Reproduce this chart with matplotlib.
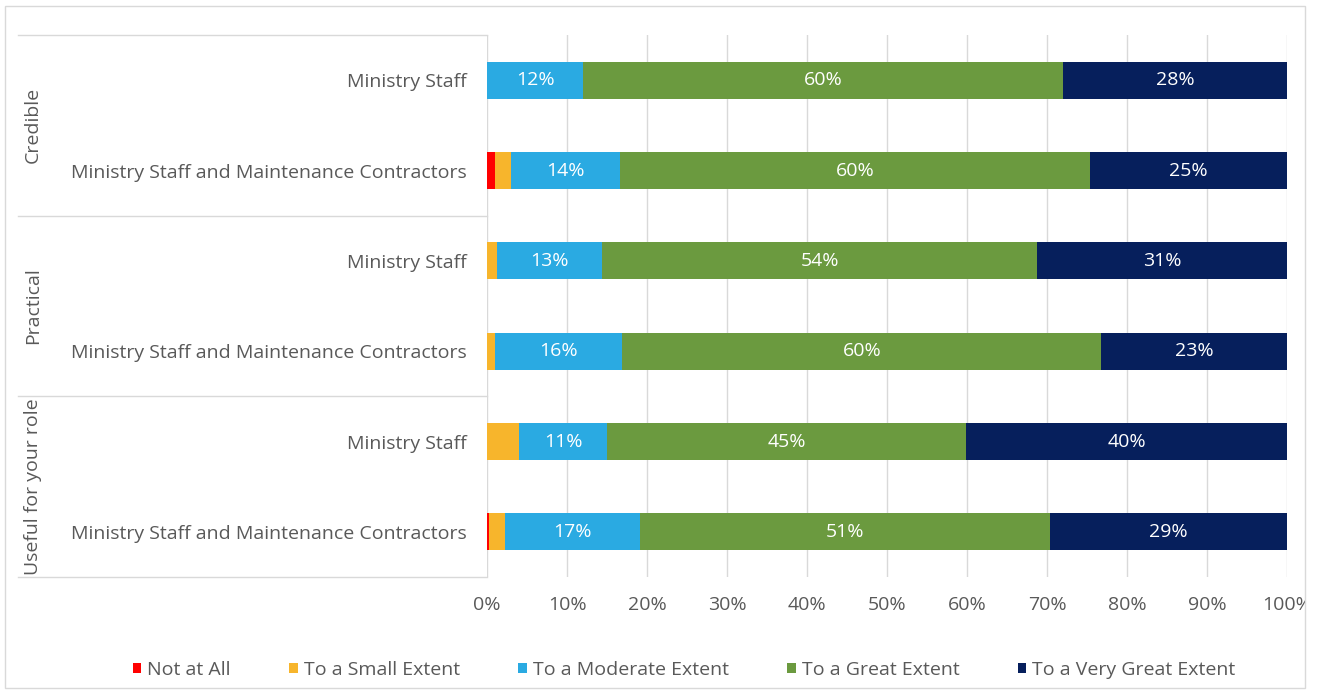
import matplotlib
matplotlib.use("Agg")
import matplotlib.pyplot as plt
from matplotlib.patches import Rectangle
import numpy as np

plt.rcParams['font.family'] = ['Open Sans', 'DejaVu Sans']

groups = ["Credible", "Practical", "Useful for your role"]
categories = ["Ministry Staff", "Ministry Staff and Maintenance Contractors"] * 3
series = ["Not at All", "To a Small Extent", "To a Moderate Extent",
          "To a Great Extent", "To a Very Great Extent"]
colors = ["#FF0000", "#F7B52C", "#2AAAE2", "#6B9A3F", "#061F5C"]

not_at_all = [0.0, 1.0, 0.0, 0.0, 0.0, 0.3]
small = [0.0, 2.0, 1.2, 1.0, 4.0, 1.9]
moderate = [12.0, 13.6, 13.2, 15.9, 11.0, 16.9]
great = [60.0, 58.8, 54.4, 59.9, 44.9, 51.3]
very_great = [28.0, 24.6, 31.2, 23.2, 40.1, 29.6]
labels_moderate = ["12%", "14%", "13%", "16%", "11%", "17%"]
labels_great = ["60%", "60%", "54%", "60%", "45%", "51%"]
labels_very_great = ["28%", "25%", "31%", "23%", "40%", "29%"]
xticks = [0, 10, 20, 30, 40, 50, 60, 70, 80, 90, 100]

W, H = 1322, 692
fig = plt.figure(figsize=(W / 100, H / 100), dpi=100)
ax = fig.add_axes([487 / W, 115 / H, 800 / W, 542 / H])

values = [not_at_all, small, moderate, great, very_great]
label_sets = [None, None, labels_moderate, labels_great, labels_very_great]
y = np.arange(len(categories))
left = np.zeros(len(categories))
text_color = "#595959"
fs = 14
for vals, col, name, labs in zip(values, colors, series, label_sets):
    vals = np.array(vals)
    ax.barh(y, vals, left=left, height=0.41, color=col, label=name, zorder=3)
    if labs is not None:
        for yi, (l, v, t) in enumerate(zip(left, vals, labs)):
            ax.text(l + v / 2, yi, t, ha="center", va="center", color="white",
                    fontsize=fs, zorder=4)
    left = left + vals

ax.set_xlim(0, 100)
ax.set_ylim(len(categories) - 0.5, -0.5)
ax.set_xticks(xticks)
ax.set_xticklabels([f"{t}%" for t in xticks], color=text_color, fontsize=fs)
ax.set_yticks(y)
ax.set_yticklabels(categories, color=text_color, fontsize=fs)
ax.tick_params(axis="both", length=0)
ax.tick_params(axis="y", pad=14.4)
ax.tick_params(axis="x", pad=13.5)
ax.grid(axis="x", color="#D9D9D9", linewidth=1, zorder=0)
for s in ax.spines.values():
    s.set_visible(False)

# group separators and labels
tr = ax.get_yaxis_transform()
x0 = (18 - 487) / 800
for yy in [-0.5, 1.5, 3.5, 5.5]:
    ax.plot([x0, 0], [yy, yy], transform=tr, color="#D9D9D9", lw=1, clip_on=False)
for gi, g in enumerate(groups):
    ax.text((33 - 487) / 800, 2 * gi + 0.5, g, transform=tr, rotation=90,
            ha="center", va="center", color=text_color, fontsize=fs)

# outer border
border = Rectangle((5 / W, 4 / H), 1300 / W, 682 / H, transform=fig.transFigure,
                   fill=False, edgecolor="#D9D9D9", lw=1)
fig.patches.append(border)
clip = Rectangle((0, 0), 1305, H, transform=None)
for lab in ax.get_xticklabels():
    lab.set_clip_path(clip)

leg = fig.legend(loc="center", bbox_to_anchor=(684 / W, 22 / H), ncol=5,
                 frameon=False, fontsize=fs, handlelength=0.45, handleheight=0.45,
                 handletextpad=0.3, columnspacing=3.0, labelcolor=text_color)

fig.savefig("out.png", dpi=100)
